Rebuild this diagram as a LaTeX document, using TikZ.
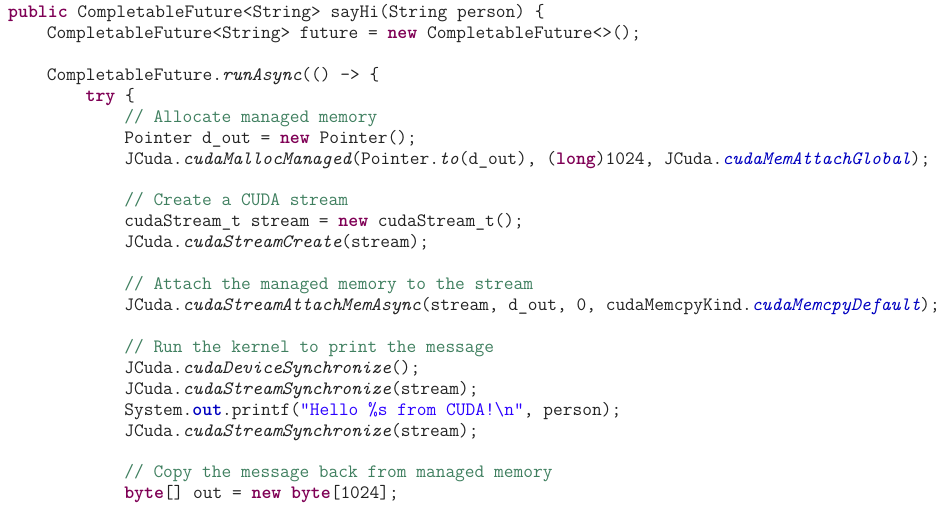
\documentclass[tikz,border=0pt]{standalone}
\usepackage{fontspec}
\definecolor{kwc}{HTML}{7F0055}
\definecolor{cmc}{HTML}{3F7F5F}
\definecolor{fdc}{HTML}{0000C0}
\definecolor{stc}{HTML}{2A00FF}
\definecolor{txc}{HTML}{222222}
\newcommand{\kwd}[1]{{\bfseries\color{kwc}#1}}
\newcommand{\cmt}[1]{{\color{cmc}#1}}
\newcommand{\imt}[1]{{\itshape #1}}
\newcommand{\fld}[1]{{\itshape\color{fdc}#1}}
\newcommand{\strg}[1]{{\color{stc}#1}}
\begin{document}
\begin{tikzpicture}[x=1pt,y=-1pt,
  code/.style={anchor=base west,inner sep=0pt,text=txc,font=\ttfamily\fontsize{18.9}{21}\selectfont}]
\useasboundingbox (0,0) rectangle (943,507);
\node[code] (l1) at (8,17) {\kwd{public} CompletableFuture<String> sayHi(String person) \{};
\node[code] (l2) at (46.7,38) {CompletableFuture<String> future = \kwd{new} CompletableFuture<>();};
\node[code] (l3) at (46.7,80) {CompletableFuture.\imt{runAsync}(() -> \{};
\node[code] (l4) at (85.4,101) {\kwd{try} \{};
\node[code] (l5) at (124.1,122) {\cmt{// Allocate managed memory}};
\node[code] (l6) at (124.1,143) {Pointer d\_out = \kwd{new} Pointer();};
\node[code] (l7) at (124.1,164) {JCuda.\imt{cudaMallocManaged}(Pointer.\imt{to}(d\_out), (\kwd{long})1024, JCuda.\fld{cudaMemAttachGlobal});};
\node[code] (l8) at (124.1,205) {\cmt{// Create a CUDA stream}};
\node[code] (l9) at (124.1,226) {cudaStream\_t stream = \kwd{new} cudaStream\_t();};
\node[code] (l10) at (124.1,247) {JCuda.\imt{cudaStreamCreate}(stream);};
\node[code] (l11) at (124.1,289) {\cmt{// Attach the managed memory to the stream}};
\node[code] (l12) at (124.1,310) {JCuda.\imt{cudaStreamAttachMemAsync}(stream, d\_out, 0, cudaMemcpyKind.\fld{cudaMemcpyDefault});};
\node[code] (l13) at (124.1,352) {\cmt{// Run the kernel to print the message}};
\node[code] (l14) at (124.1,373) {JCuda.\imt{cudaDeviceSynchronize}();};
\node[code] (l15) at (124.1,394) {JCuda.\imt{cudaStreamSynchronize}(stream);};
\node[code] (l16) at (124.1,415) {System.{\bfseries\color{fdc}out}.printf(\strg{"Hello \%s from CUDA!\textbackslash n"}, person);};
\node[code] (l17) at (124.1,436) {JCuda.\imt{cudaStreamSynchronize}(stream);};
\node[code] (l18) at (124.1,477) {\cmt{// Copy the message back from managed memory}};
\node[code] (l19) at (124.1,498) {\kwd{byte}[] out = \kwd{new} \kwd{byte}[1024];};
\end{tikzpicture}
\end{document}
